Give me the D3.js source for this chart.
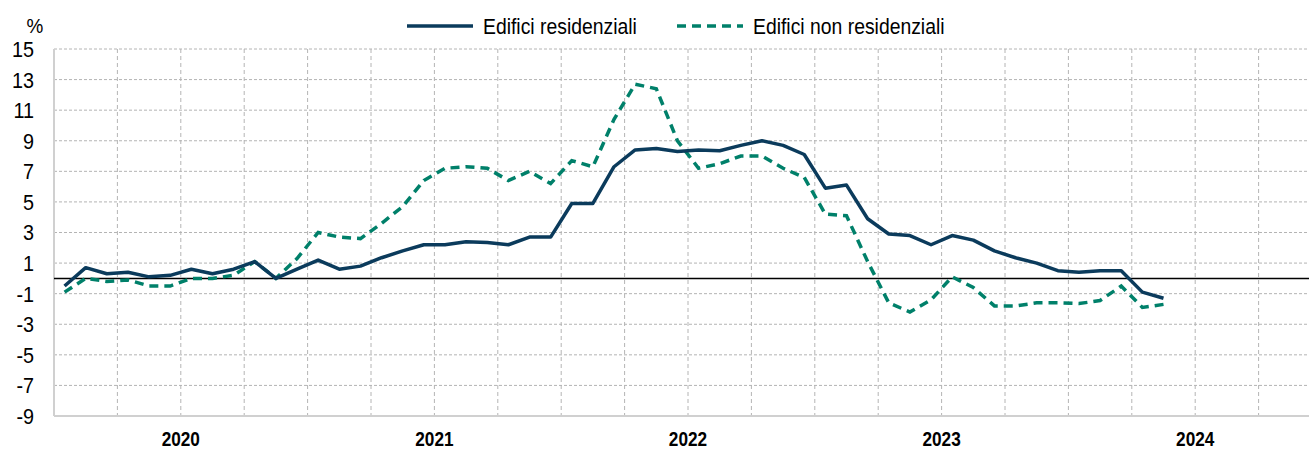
<!DOCTYPE html>
<html>
<head>
<meta charset="utf-8">
<script src="https://cdn.jsdelivr.net/npm/d3@7/dist/d3.min.js"></script>
<style>
  body { margin: 0; background: #fff; }
  svg { display: block; font-family: "Liberation Sans", Arial, sans-serif; }
</style>
</head>
<body>
<svg width="1309" height="451"></svg>
<script>
// data (monthly, Jan 2020 - May 2024)
const years = [2020, 2021, 2022, 2023, 2024];
const yTicks = [-9, -7, -5, -3, -1, 1, 3, 5, 7, 9, 11, 13, 15];
const seriesNames = ['Edifici residenziali', 'Edifici non residenziali'];

const residential = [
  -0.5, 0.7, 0.3, 0.4, 0.1, 0.2, 0.6, 0.3, 0.6, 1.1, 0.0, 0.6,
  1.2, 0.6, 0.8, 1.35, 1.8, 2.2, 2.2, 2.4, 2.35, 2.2, 2.7, 2.7,
  4.9, 4.9, 7.3, 8.4, 8.5, 8.3, 8.4, 8.35, 8.7, 9.0, 8.7, 8.1,
  5.9, 6.1, 3.9, 2.9, 2.8, 2.2, 2.8, 2.5, 1.8, 1.35, 1.0, 0.5,
  0.4, 0.5, 0.5, -0.9, -1.3
];
const nonResidential = [
  -0.9, 0.0, -0.2, -0.1, -0.5, -0.5, 0.0, 0.0, 0.2, 1.1, 0.0, 1.3,
  3.0, 2.7, 2.6, 3.6, 4.7, 6.4, 7.2, 7.3, 7.2, 6.4, 7.0, 6.2,
  7.7, 7.3, 10.4, 12.7, 12.4, 9.0, 7.2, 7.5, 8.0, 8.0, 7.2, 6.6,
  4.2, 4.1, 1.1, -1.6, -2.2, -1.4, 0.1, -0.6, -1.8, -1.8, -1.6, -1.6,
  -1.65, -1.45, -0.5, -1.9, -1.7
];

const navy = '#0b3b5c';
const green = '#00806a';

const svg = d3.select('svg');
const width = +svg.attr('width');
const margin = { left: 54, top: 49 };
const plotBottom = 416;

// month categories, 12 per year
const months = years.flatMap(y => d3.range(12).map(m => `${y}-${m + 1}`));

const x = d3.scaleBand()
  .domain(months)
  .range([margin.left, margin.left + 1268])
  .padding(0);
const xMid = i => x(months[i]) + x.bandwidth() / 2;

const y = d3.scaleLinear()
  .domain([-9, 15])
  .range([plotBottom, margin.top]);

// narrow-looking text: squeeze horizontally around the anchor point
const narrowText = (parent, px, py, str, opts) => {
  const g = parent.append('g')
    .attr('transform', `translate(${px},${py}) scale(${opts.sx},1)`);
  return g.append('text')
    .attr('text-anchor', opts.anchor || 'start')
    .attr('dy', opts.dy || null)
    .attr('font-size', opts.size)
    .attr('font-weight', opts.weight || null)
    .attr('fill', '#000')
    .text(str);
};

// horizontal grid
const gridG = svg.append('g');
gridG.selectAll('line.h')
  .data(yTicks)
  .join('line')
    .attr('class', 'h')
    .attr('x1', margin.left)
    .attr('x2', width)
    .attr('y1', d => y(d))
    .attr('y2', d => y(d))
    .attr('stroke', '#b4b4b4')
    .attr('stroke-width', 1)
    .attr('stroke-dasharray', d => (d === -9 ? null : '3,2'));

// vertical grid at quarter boundaries
const quarterStarts = months.filter((m, i) => i > 0 && i % 3 === 0);
gridG.selectAll('line.v')
  .data(quarterStarts)
  .join('line')
    .attr('class', 'v')
    .attr('x1', d => x(d))
    .attr('x2', d => x(d))
    .attr('y1', margin.top)
    .attr('y2', plotBottom)
    .attr('stroke', '#b4b4b4')
    .attr('stroke-width', 1)
    .attr('stroke-dasharray', '4,3');

// plot border (left + bottom)
svg.append('line')
  .attr('x1', margin.left).attr('x2', margin.left)
  .attr('y1', margin.top).attr('y2', plotBottom)
  .attr('stroke', '#d0d0d0').attr('stroke-width', 2);
svg.append('line')
  .attr('x1', margin.left).attr('x2', width)
  .attr('y1', plotBottom).attr('y2', plotBottom)
  .attr('stroke', '#d0d0d0').attr('stroke-width', 2);

// zero line
svg.append('line')
  .attr('x1', margin.left).attr('x2', width)
  .attr('y1', y(0)).attr('y2', y(0))
  .attr('stroke', '#000').attr('stroke-width', 1.5);

// y labels
const yLabelG = svg.append('g');
yTicks.forEach(t => {
  narrowText(yLabelG, 34, y(t), t, { sx: 0.9, size: 22, anchor: 'end', dy: '0.36em' });
});
narrowText(svg, 35, 33, '%', { sx: 0.9, size: 21, anchor: 'middle' });

// year labels
const yearG = svg.append('g');
years.forEach(yr => {
  const cx = (x(`${yr}-1`) + x(`${yr}-12`) + x.bandwidth()) / 2;
  narrowText(yearG, cx, 446, yr, { sx: 0.82, size: 21, weight: 'bold', anchor: 'middle' });
});

// lines
const line = d3.line()
  .x((d, i) => xMid(i))
  .y(d => y(d));

svg.append('path')
  .datum(nonResidential)
  .attr('fill', 'none')
  .attr('stroke', green)
  .attr('stroke-width', 3.5)
  .attr('stroke-dasharray', '9,6')
  .attr('d', line);

svg.append('path')
  .datum(residential)
  .attr('fill', 'none')
  .attr('stroke', navy)
  .attr('stroke-width', 3.5)
  .attr('stroke-linejoin', 'round')
  .attr('d', line);

// legend
const legendG = svg.append('g');
const legendItems = [
  { name: seriesNames[0], color: navy, dash: null, x: 407 },
  { name: seriesNames[1], color: green, dash: '9,6', x: 677 }
];
legendItems.forEach(d => {
  legendG.append('line')
    .attr('x1', d.x).attr('x2', d.x + 66)
    .attr('y1', 26).attr('y2', 26)
    .attr('stroke', d.color)
    .attr('stroke-width', 3.5)
    .attr('stroke-dasharray', d.dash);
  narrowText(legendG, d.x + 76, 26, d.name, { sx: 0.88, size: 22, dy: '0.36em' });
});
</script>
</body>
</html>
